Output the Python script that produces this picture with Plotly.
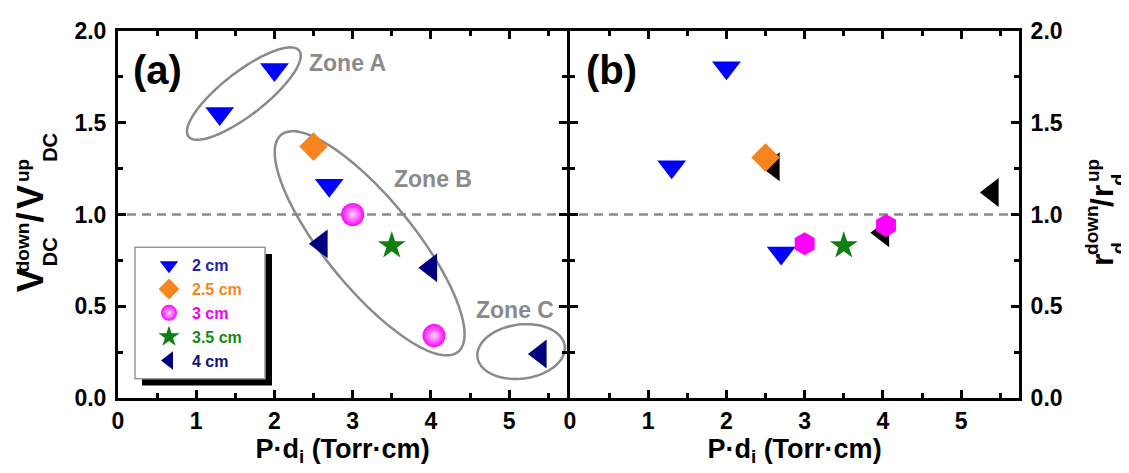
import numpy as np
import plotly.graph_objects as go

# ---------------- data ----------------
cats = ["2 cm", "2.5 cm", "3 cm", "3.5 cm", "4 cm"]
x_2cm = [1.3, 2.0, 2.7]
x_25cm = [2.5]
x_3cm = [3.0, 4.04]
x_35cm = [3.5]
x_4cm = [2.6, 4.0, 5.4]

# panel (a): V_DC down / up
va_2cm = [1.55, 1.79, 1.16]
va_25cm = [1.37]
va_3cm = [1.0, 0.34]
va_35cm = [0.83]
va_4cm = [0.84, 0.71, 0.24]

# panel (b): r_d down / up
rb_2cm = [1.26, 1.80, 0.79]
rb_25cm = [1.31]
rb_3cm = [0.84, 0.94]
rb_35cm = [0.83]
rb_4cm = [1.26, 0.90, 1.12]

x_ticks = [0, 1, 2, 3, 4, 5]
y_ticks = [0.0, 0.5, 1.0, 1.5, 2.0]

# ---------------- layout constants ----------------
OFF = 8                      # page body margin of the html page
W, H = 1129 - OFF, 473 - OFF
PLOT_L, PLOT_R, PLOT_T, PLOT_B = 118, 1019, 18, 398   # screen px of plot area
L = PLOT_L - OFF
T = PLOT_T - OFF
R = 1129 - PLOT_R
B = 473 - PLOT_B
PW, PH = PLOT_R - PLOT_L, PLOT_B - PLOT_T
XMAX = 5.74
FONT = "Liberation Sans, Arial, sans-serif"
LW = 3
SPLIT = 0.5
GAP = (LW / 2) / PW
SX = (PW * (SPLIT - GAP)) / XMAX     # px per x unit
SY = PH / 2.0                        # px per y unit
GRAY = "#8a8a8a"


def pxx(px):
    return (px - PLOT_L) / PW


def pxy(py):
    return (PLOT_B - py) / PH


fig = go.Figure()

C_BLUE, C_OR, C_MAG, C_GR, C_NAVY = "#0000FF", "#F7841F", "#FF00FF", "#0F7F0F", "#000080"
legend_cols = ["#2020B0", "#F7841F", "#F000F0", "#138A13", "#101080"]

sym = dict(ms_tri=25, ms_dia=22, ms_cir=23, ms_star=21, ms_hex=23)

# panel a traces
fig.add_trace(go.Scatter(x=x_2cm, y=va_2cm, mode="markers", xaxis="x", yaxis="y",
                         name=f'<span style="color:{legend_cols[0]}">{cats[0]}</span>', legendgroup="g1",
                         marker=dict(symbol="triangle-down", size=sym["ms_tri"], color=C_BLUE, line=dict(width=0))))
fig.add_trace(go.Scatter(x=x_25cm, y=va_25cm, mode="markers", xaxis="x", yaxis="y",
                         name=f'<span style="color:{legend_cols[1]}">{cats[1]}</span>', legendgroup="g2",
                         marker=dict(symbol="diamond", size=sym["ms_dia"], color=C_OR, line=dict(width=0))))
fig.add_trace(go.Scatter(x=x_3cm, y=va_3cm, mode="markers", xaxis="x", yaxis="y",
                         name=f'<span style="color:{legend_cols[2]}">{cats[2]}</span>', legendgroup="g3",
                         marker=dict(symbol="circle", size=sym["ms_cir"], color=C_MAG, line=dict(width=0),
                                     gradient=dict(type="radial", color="#FFD8FF"))))
fig.add_trace(go.Scatter(x=x_35cm, y=va_35cm, mode="markers", xaxis="x", yaxis="y",
                         name=f'<span style="color:{legend_cols[3]}">{cats[3]}</span>', legendgroup="g4",
                         marker=dict(symbol="star", size=sym["ms_star"], color=C_GR, line=dict(width=0))))
fig.add_trace(go.Scatter(x=x_4cm, y=va_4cm, mode="markers", xaxis="x", yaxis="y",
                         name=f'<span style="color:{legend_cols[4]}">{cats[4]}</span>', legendgroup="g5",
                         marker=dict(symbol="triangle-left", size=sym["ms_tri"], color=C_NAVY, line=dict(width=0))))

# panel b traces (4 cm drawn first: sits behind others)
fig.add_trace(go.Scatter(x=x_4cm, y=rb_4cm, mode="markers", xaxis="x2", yaxis="y2", showlegend=False,
                         marker=dict(symbol="triangle-left", size=sym["ms_tri"], color="black", line=dict(width=0))))
fig.add_trace(go.Scatter(x=x_2cm, y=rb_2cm, mode="markers", xaxis="x2", yaxis="y2", showlegend=False,
                         marker=dict(symbol="triangle-down", size=sym["ms_tri"], color=C_BLUE, line=dict(width=0))))
fig.add_trace(go.Scatter(x=x_25cm, y=rb_25cm, mode="markers", xaxis="x2", yaxis="y2", showlegend=False,
                         marker=dict(symbol="diamond", size=sym["ms_dia"], color=C_OR, line=dict(width=0))))
fig.add_trace(go.Scatter(x=x_3cm, y=rb_3cm, mode="markers", xaxis="x2", yaxis="y2", showlegend=False,
                         marker=dict(symbol="hexagon", size=sym["ms_hex"], color=C_MAG, line=dict(width=0))))
fig.add_trace(go.Scatter(x=x_35cm, y=rb_35cm, mode="markers", xaxis="x2", yaxis="y2", showlegend=False,
                         marker=dict(symbol="star", size=sym["ms_star"], color=C_GR, line=dict(width=0))))

# ---------------- axes ----------------
tickfont = dict(family=FONT, size=23, color="black", weight="bold")


def xax(domain, anchor):
    return dict(domain=domain, anchor=anchor, range=[0, XMAX], tickvals=x_ticks,
                showline=True, linecolor="black", linewidth=LW, mirror="ticks",
                ticks="inside", ticklen=8, tickwidth=2.5, tickcolor="black",
                showgrid=False, zeroline=False, tickfont=tickfont, ticklabelstandoff=0,
                minor=dict(ticks="inside", dtick=0.5, tick0=0, ticklen=5, tickwidth=2.5,
                           tickcolor="black", showgrid=False),
                title=dict(text="P·d<sub>i</sub> (Torr·cm)", standoff=4,
                           font=dict(family=FONT, size=27, color="black", weight="bold")))


def yax(anchor, side):
    return dict(domain=[0, 1], anchor=anchor, side=side, range=[0, 2.0], tickvals=y_ticks,
                tickformat=".1f", showline=True, linecolor="black", linewidth=LW, mirror="ticks",
                ticks="inside", ticklen=8, tickwidth=2.5, tickcolor="black",
                showgrid=False, zeroline=False, tickfont=tickfont, ticklabelstandoff=4,
                minor=dict(ticks="inside", dtick=0.25, tick0=0, ticklen=5, tickwidth=2.5,
                           tickcolor="black", showgrid=False))


fig.update_layout(
    xaxis=xax([0, SPLIT - GAP], "y"),
    yaxis=yax("x", "left"),
    xaxis2=xax([SPLIT + GAP, 1], "y2"),
    yaxis2=yax("x2", "right"),
)

# ---------------- shapes ----------------
shapes = []
# reference dashed lines at 1.0
for xr, yr in (("x domain", "y"), ("x2 domain", "y2")):
    shapes.append(dict(type="line", xref=xr, yref=yr, x0=0.02, x1=1, y0=1, y1=1, layer="below",
                       line=dict(color=GRAY, width=2.5, dash="9px,6px")))


def ellipse_path(cx, cy, a_px, b_px, ang_deg, n=120):
    t = np.linspace(0, 2 * np.pi, n)
    th = np.deg2rad(ang_deg)
    dx = a_px * np.cos(t) * np.cos(th) - b_px * np.sin(t) * np.sin(th)
    dy = a_px * np.cos(t) * np.sin(th) + b_px * np.sin(t) * np.cos(th)
    xs = cx + dx / SX
    ys = cy + dy / SY
    pts = [f"{x:.4f},{y:.4f}" for x, y in zip(xs, ys)]
    return "M" + " L".join(pts) + " Z"


zones = [  # (center x, center y in data units, semi-axes px, angle deg)
    (1.609, 1.659, 71, 22, 39),
    (3.217, 0.843, 143, 45, -52),
    (5.153, 0.253, 44, 28, 8),
]
for cx, cy, a, b, ang in zones:
    shapes.append(dict(type="path", xref="x", yref="y", path=ellipse_path(cx, cy, a, b, ang),
                       line=dict(color=GRAY, width=2.5), layer="below"))

# legend box with shadow (pixel placed)
shapes.append(dict(type="rect", xref="paper", yref="paper", x0=pxx(142), x1=pxx(272), y0=pxy(385), y1=pxy(249),
                   fillcolor="black", line=dict(width=0), layer="above"))
shapes.append(dict(type="rect", xref="paper", yref="paper", x0=pxx(135), x1=pxx(265), y0=pxy(378), y1=pxy(242),
                   fillcolor="white", line=dict(color="#999999", width=1.5), layer="above"))
fig.update_layout(shapes=shapes)

# ---------------- annotations ----------------
ann = []


def txt(text, x, y, size, color="black", xref="x", yref="y", angle=0):
    ann.append(dict(text=text, x=x, y=y, xref=xref, yref=yref, showarrow=False, textangle=angle,
                    xanchor="center", yanchor="middle",
                    font=dict(family=FONT, size=size, color=color, weight="bold")))


txt("(a)", 0.50, 1.79, 40)
txt("(b)", 0.53, 1.79, 40, xref="x2", yref="y2")
txt("Zone A", 2.94, 1.828, 23, GRAY)
txt("Zone B", 4.03, 1.196, 23, GRAY)
txt("Zone C", 5.07, 0.48, 23, GRAY)

# left y title  V^down_DC / V^up_DC  (rotated, pieces placed in px)
left_pieces = [("V", 30, 276, 36), ("down", 22, 242, 19), ("DC", 50, 247, 20), ("/", 30, 211, 36),
               ("V", 30, 190, 36), ("up", 22, 163, 19), ("DC", 50, 139, 20)]
for t_, px, py, fs in left_pieces:
    txt(t_, pxx(px), pxy(py), fs, xref="paper", yref="paper", angle=-90)

# right y title  r^down_d / r^up_d
right_pieces = [("r", 1102, 255, 32), ("down", 1092, 224, 19), ("d", 1119, 243, 20), ("/", 1102, 196, 32),
                ("r", 1102, 184, 32), ("up", 1092, 163, 19), ("d", 1119, 172, 20)]
for t_, px, py, fs in right_pieces:
    txt(t_, pxx(px), pxy(py), fs, xref="paper", yref="paper", angle=-90)

fig.update_layout(annotations=ann)

fig.update_layout(
    width=W, height=H,
    margin=dict(l=L, r=R, t=T, b=B, pad=0),
    paper_bgcolor="white", plot_bgcolor="white",
    font=dict(family=FONT, color="black"),
    showlegend=True,
    legend=dict(x=pxx(146), y=pxy(243), xanchor="left", yanchor="top", bgcolor="rgba(0,0,0,0)",
                borderwidth=0, tracegroupgap=0, itemsizing="trace", itemwidth=36,
                font=dict(family=FONT, size=16, color="black", weight="bold")),
)

fig.write_html("out.html")
